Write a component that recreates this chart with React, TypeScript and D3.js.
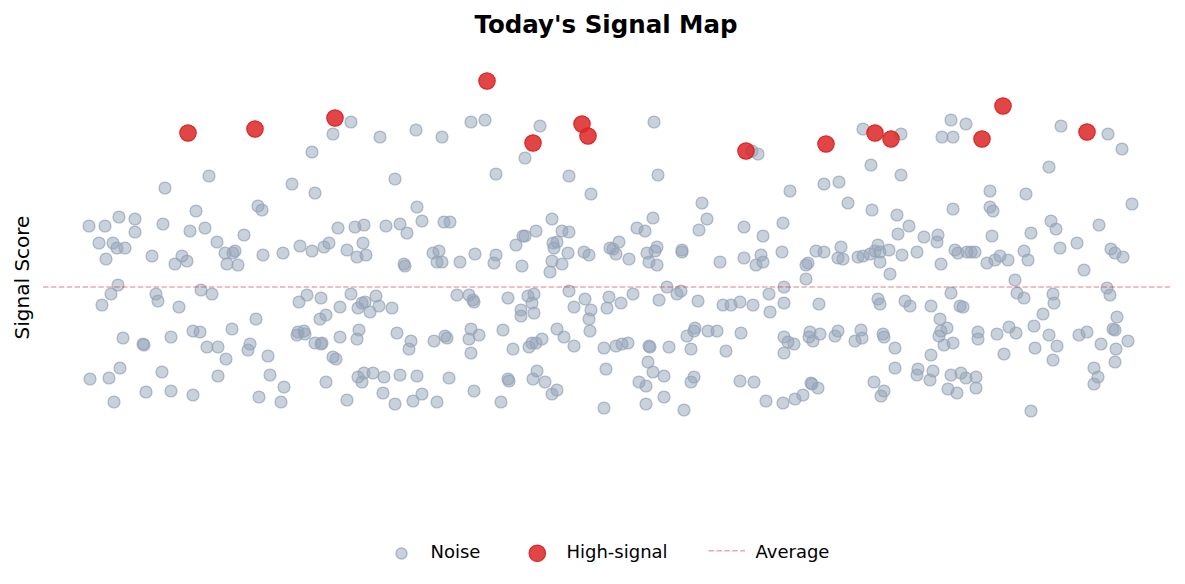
import React, { useEffect, useRef } from 'react';
import * as d3 from 'd3';

// [position, score]
const noisePoints: Array<[number, number]> = [
  [35.1, 37.8], [33.3, 36.6], [38.0, 36.3], [41.6, 37.0], [44.2, 36.3], [31.2, 34.8], [20.9, 32.4], [16.5, 31.2],
  [29.2, 31.6], [31.5, 30.7], [39.5, 32.1], [25.8, 29.4], [26.2, 29.0], [19.6, 28.9], [41.7, 29.3], [42.2, 27.9],
  [8.9, 27.4], [10.5, 27.4], [11.9, 28.3], [13.5, 28.1], [13.5, 26.8], [16.3, 27.6], [19.0, 26.9], [20.5, 27.2],
  [24.4, 26.5], [33.8, 27.2], [35.5, 27.3], [36.4, 27.5], [38.6, 27.4], [40.0, 27.6], [40.7, 26.7],
  [9.9, 25.7], [11.3, 25.7], [11.7, 25.2], [12.5, 25.2], [10.6, 24.1], [15.2, 24.4], [18.2, 24.4], [17.5, 23.6],
  [18.7, 23.9], [21.7, 25.8], [22.5, 24.7], [23.3, 24.7], [23.5, 24.9], [22.7, 23.6], [23.8, 23.5], [26.3, 24.5],
  [28.3, 24.7], [30.0, 25.4], [31.2, 24.9], [32.4, 25.3], [32.9, 25.7], [34.7, 25.0], [35.7, 24.3], [36.6, 24.5],
  [36.3, 25.7], [40.4, 23.6], [40.5, 23.4],
  [11.8, 21.5], [11.1, 20.6], [10.2, 19.5], [15.6, 20.6], [15.8, 19.9], [17.9, 19.3], [20.1, 21.0], [21.2, 20.6],
  [12.3, 16.2], [14.3, 15.6], [14.4, 15.5], [17.1, 16.3], [19.3, 16.9], [20.0, 16.8], [23.2, 17.1], [25.6, 18.1],
  [20.7, 15.3], [21.8, 15.3], [22.6, 14.1], [24.8, 15.0], [25.0, 15.6], [26.8, 14.4], [29.9, 19.8], [30.7, 20.5],
  [32.1, 20.2], [34.0, 19.3], [35.1, 20.6], [35.8, 19.2], [36.2, 19.7], [36.5, 19.8], [37.0, 18.8], [37.6, 20.4],
  [37.9, 19.4], [39.2, 19.2], [32.0, 18.1], [32.6, 18.5], [29.7, 16.5], [29.8, 16.8], [30.4, 16.9], [30.5, 16.6],
  [31.5, 15.7], [32.1, 15.6], [32.2, 15.7], [34.0, 16.3], [35.9, 17.0], [35.7, 16.1], [33.3, 14.3], [33.6, 14.1],
  [39.7, 16.7], [41.1, 15.9], [40.9, 15.1], [9.0, 12.1], [10.9, 12.2], [12.0, 13.2], [11.4, 9.8], [16.2, 12.8],
  [14.6, 10.8], [17.1, 10.9], [19.3, 10.5], [21.8, 12.4], [25.9, 10.3], [27.0, 12.5], [28.4, 11.3], [28.1, 9.8],
  [32.6, 11.8], [34.7, 10.0], [35.8, 12.3], [36.4, 12.7], [36.2, 11.8], [37.3, 12.7], [38.4, 12.3], [40.0, 12.5],
  [41.7, 12.4], [38.3, 10.7], [39.5, 9.6], [41.3, 9.9], [42.2, 10.6],
  [47.1, 37.8], [48.5, 38.0], [54.0, 37.4], [52.5, 34.2], [49.6, 32.6], [56.9, 32.4], [59.1, 30.6], [65.4, 37.8],
  [65.8, 32.5], [75.2, 34.9], [75.8, 34.6], [70.2, 29.7], [70.7, 28.1], [79.0, 30.9], [44.4, 27.8], [45.0, 27.8],
  [52.3, 26.4], [52.5, 26.4], [53.6, 26.9], [55.2, 28.1], [56.2, 26.9], [56.9, 26.8], [63.7, 27.2], [64.5, 26.9],
  [65.3, 28.2], [69.9, 27.0], [74.4, 27.3], [76.3, 26.4], [78.3, 27.7],
  [43.3, 24.7], [43.9, 24.9], [43.7, 23.8], [44.2, 23.8], [46.0, 23.8], [47.5, 24.6], [49.6, 24.5], [49.4, 23.7],
  [51.6, 25.5], [52.2, 23.4], [55.3, 25.7], [55.7, 25.8], [55.4, 25.2], [55.2, 23.9], [56.2, 23.6], [55.0, 22.8],
  [56.8, 24.7], [58.4, 24.8], [58.9, 24.5], [61.0, 25.2], [61.3, 25.1], [61.6, 24.6], [61.9, 25.8], [62.9, 24.1],
  [64.7, 24.7], [65.5, 24.9], [65.7, 25.3], [64.9, 23.8], [65.7, 23.5], [68.2, 25.0], [68.2, 24.8], [72.0, 23.8],
  [74.4, 24.2], [75.6, 23.5], [76.1, 24.5], [76.3, 23.8], [78.2, 24.8],
  [45.7, 20.5], [46.9, 20.5], [47.3, 20.0], [47.4, 19.8], [50.8, 20.2], [52.8, 20.4], [53.4, 20.6], [53.2, 19.7],
  [52.1, 19.0], [52.1, 18.4], [53.4, 18.7], [56.9, 20.9], [58.5, 20.1], [57.4, 19.3], [59.1, 19.0], [58.9, 18.1],
  [59.0, 16.9], [60.7, 19.2], [60.9, 20.3], [62.1, 19.7], [63.3, 20.6], [66.7, 21.3], [67.7, 20.6], [68.1, 20.9],
  [65.9, 20.0], [69.8, 19.9], [72.3, 19.5], [73.1, 19.5], [74.0, 19.8], [75.3, 19.5], [76.9, 20.6], [77.0, 18.8],
  [78.4, 21.3], [78.4, 19.7], [43.4, 15.9], [44.5, 16.4], [44.7, 16.2], [47.1, 17.1], [46.9, 16.1], [47.9, 16.5],
  [47.1, 14.7], [50.3, 17.0], [51.3, 15.1], [52.9, 15.3], [53.2, 15.7], [53.6, 15.7], [54.2, 16.1], [55.7, 17.1],
  [56.4, 16.3], [57.4, 15.4], [60.4, 15.2], [61.6, 15.4], [62.2, 15.6], [62.8, 15.7], [64.9, 15.4], [65.0, 15.3],
  [66.9, 15.3], [69.1, 15.1], [68.7, 16.4], [69.4, 16.9], [69.5, 17.2], [70.8, 16.9], [71.7, 16.9], [74.1, 16.7],
  [72.6, 14.9], [78.4, 16.3], [78.8, 15.8], [79.4, 15.6], [78.4, 14.7], [44.9, 12.2], [50.8, 12.1], [50.9, 11.9],
  [47.4, 10.9], [53.3, 12.1], [53.7, 12.9], [54.5, 11.8], [55.2, 10.6], [55.7, 11.0], [60.6, 13.1], [64.8, 13.8],
  [65.3, 12.8], [63.9, 11.8], [64.6, 11.4], [66.4, 12.4], [69.1, 11.8], [69.4, 12.3], [74.0, 11.9], [75.4, 11.8],
  [43.7, 9.8], [50.1, 9.8], [60.4, 9.2], [64.6, 9.6], [66.4, 10.3], [68.4, 9.0], [76.6, 9.9], [78.3, 9.7],
  [79.5, 10.1], [80.3, 10.5],
  [86.3, 37.1], [90.1, 36.6], [95.1, 38.0], [96.6, 37.6], [94.2, 36.3], [95.3, 36.3], [106.1, 37.4], [110.8, 36.6],
  [112.2, 35.1], [87.1, 33.5], [90.1, 32.5], [82.4, 31.6], [83.9, 31.8], [104.9, 33.3], [99.0, 30.9], [102.6, 30.6],
  [84.8, 29.7], [87.2, 29.0], [89.7, 28.5], [95.3, 29.1], [99.0, 29.3], [99.3, 28.9], [113.2, 29.6], [90.9, 27.4],
  [89.8, 26.6], [92.4, 26.3], [93.8, 26.5], [99.2, 26.4], [103.1, 26.7], [105.1, 27.9], [105.6, 27.1], [109.9, 27.5],
  [81.6, 24.9], [82.4, 24.8], [84.1, 25.3], [83.8, 24.2], [84.3, 24.1], [85.8, 24.3], [86.3, 24.4], [87.0, 24.6],
  [87.5, 24.9], [87.8, 25.5], [88.0, 24.8], [88.9, 25.0], [88.0, 23.8], [89.0, 22.6], [90.2, 24.5], [91.7, 24.8],
  [93.7, 25.8], [94.1, 23.6], [95.5, 25.0], [95.8, 24.7], [96.7, 24.8], [97.1, 24.8], [97.5, 24.8], [98.7, 23.7],
  [99.5, 24.0], [100.0, 24.4], [100.8, 24.0], [102.4, 24.9], [102.8, 24.0], [106.0, 25.2], [107.7, 25.7], [108.4, 23.0],
  [111.1, 25.1], [111.5, 24.7], [112.3, 24.3], [80.6, 23.5], [80.8, 23.7], [80.6, 22.1],
  [81.9, 19.6], [87.8, 20.1], [88.0, 19.6], [90.5, 19.9], [91.0, 19.4], [93.1, 19.4], [95.1, 20.7], [96.0, 19.4],
  [96.3, 19.3], [101.5, 22.0], [101.7, 20.7], [102.4, 20.2], [105.3, 20.6], [105.4, 19.7], [104.3, 18.6], [110.7, 21.2],
  [111.0, 20.5], [111.7, 18.3], [81.0, 16.8], [80.9, 16.3], [81.3, 15.9], [82.0, 16.6], [83.5, 16.4], [83.8, 16.9],
  [85.5, 15.9], [86.1, 17.0], [86.2, 16.2], [88.3, 16.6], [88.4, 16.3], [89.5, 15.2], [94.0, 18.1], [94.7, 17.2],
  [93.9, 16.4], [94.1, 16.9], [94.4, 15.5], [95.3, 15.7], [93.1, 14.5], [97.8, 16.8], [97.8, 16.1], [99.7, 16.6],
  [100.4, 14.6], [100.9, 17.3], [101.6, 16.7], [103.4, 17.4], [103.5, 15.2], [104.9, 16.5], [105.7, 15.4], [105.3, 14.0],
  [107.9, 16.5], [108.7, 16.8], [110.1, 15.6], [111.3, 17.1], [111.5, 17.0], [111.6, 15.1], [112.8, 15.9], [111.5, 13.8],
  [89.5, 13.2], [91.7, 12.5], [91.8, 13.1], [93.3, 12.9], [93.0, 12.0], [95.1, 12.5], [96.1, 12.7], [96.6, 12.2],
  [97.6, 12.3], [94.8, 11.1], [95.7, 10.7], [97.6, 11.2], [87.4, 11.8], [88.4, 10.9], [88.1, 10.4], [81.1, 11.7],
  [81.2, 11.6], [81.8, 11.2], [103.1, 8.9], [109.4, 13.2], [109.8, 12.3], [109.4, 11.6],
];

const signalPoints: Array<[number, number]> = [
  [18.8, 36.7], [25.5, 37.1], [33.5, 38.2], [48.7, 41.9], [53.3, 35.7], [58.2, 37.6], [58.8, 36.4],
  [74.6, 34.9], [82.6, 35.6], [87.5, 36.7], [89.1, 36.1], [98.2, 36.1], [100.3, 39.4], [108.7, 36.8],
];

const averageScore = 21.3;

const legendLabels = ['Noise', 'High-signal', 'Average'];

export default function App() {
  const ref = useRef<HTMLDivElement>(null);

  useEffect(() => {
    const width = 1185;
    const height = 584;

    const svg = d3
      .select(ref.current)
      .append('svg')
      .attr('width', width)
      .attr('height', height)
      .style('position', 'absolute')
      .style('left', 0)
      .style('top', 0)
      .style('font-family', '"DejaVu Sans", sans-serif');

    const x = d3.scaleLinear().domain([4.3, 117]).range([43, 1170]);
    const y = d3.scaleLinear().domain([0, 50]).range([500, 0]);

    svg
      .append('text')
      .attr('x', 606)
      .attr('y', 33)
      .attr('text-anchor', 'middle')
      .style('font-size', '24.5px')
      .style('font-weight', 'bold')
      .text("Today's Signal Map");

    svg
      .append('text')
      .attr('transform', 'translate(29,277.5) rotate(-90)')
      .attr('text-anchor', 'middle')
      .style('font-size', '20px')
      .text('Signal Score');

    svg
      .append('g')
      .selectAll('circle')
      .data(noisePoints)
      .enter()
      .append('circle')
      .attr('cx', (d) => x(d[0]))
      .attr('cy', (d) => y(d[1]))
      .attr('r', 5.9)
      .attr('fill', '#94a3b8')
      .attr('fill-opacity', 0.5)
      .attr('stroke', '#94a3b8')
      .attr('stroke-opacity', 0.7)
      .attr('stroke-width', 1.4);

    svg
      .append('g')
      .selectAll('circle')
      .data(signalPoints)
      .enter()
      .append('circle')
      .attr('cx', (d) => x(d[0]))
      .attr('cy', (d) => y(d[1]))
      .attr('r', 8.2)
      .attr('fill', '#dc2626')
      .attr('fill-opacity', 0.85)
      .attr('stroke', '#dc2626')
      .attr('stroke-width', 1.2);

    svg
      .append('line')
      .attr('x1', x.range()[0])
      .attr('x2', x.range()[1])
      .attr('y1', y(averageScore))
      .attr('y2', y(averageScore))
      .attr('stroke', '#dc2626')
      .attr('stroke-opacity', 0.4)
      .attr('stroke-width', 1.5)
      .attr('stroke-dasharray', '5.5,2.4');

    // legend along the bottom
    const legend = svg.append('g').style('font-size', '18px');
    const textX = [430.5, 566.5, 755.5];

    legend
      .append('circle')
      .attr('cx', 401.5)
      .attr('cy', 553.5)
      .attr('r', 5.5)
      .attr('fill', '#94a3b8')
      .attr('fill-opacity', 0.5)
      .attr('stroke', '#94a3b8')
      .attr('stroke-opacity', 0.7)
      .attr('stroke-width', 1.4);

    legend
      .append('circle')
      .attr('cx', 537.3)
      .attr('cy', 553.3)
      .attr('r', 8.2)
      .attr('fill', '#dc2626')
      .attr('fill-opacity', 0.85)
      .attr('stroke', '#dc2626')
      .attr('stroke-width', 1.2);

    legend
      .append('line')
      .attr('x1', 708.5)
      .attr('x2', 745)
      .attr('y1', 550.7)
      .attr('y2', 550.7)
      .attr('stroke', '#dc2626')
      .attr('stroke-opacity', 0.4)
      .attr('stroke-width', 1.5)
      .attr('stroke-dasharray', '5.5,2.4');

    legend
      .selectAll('text')
      .data(legendLabels)
      .enter()
      .append('text')
      .attr('x', (_, i) => textX[i])
      .attr('y', 558.3)
      .text((d) => d);

    return () => {
      d3.select(ref.current).select('svg').remove();
    };
  }, []);

  return <div ref={ref}></div>;
}
